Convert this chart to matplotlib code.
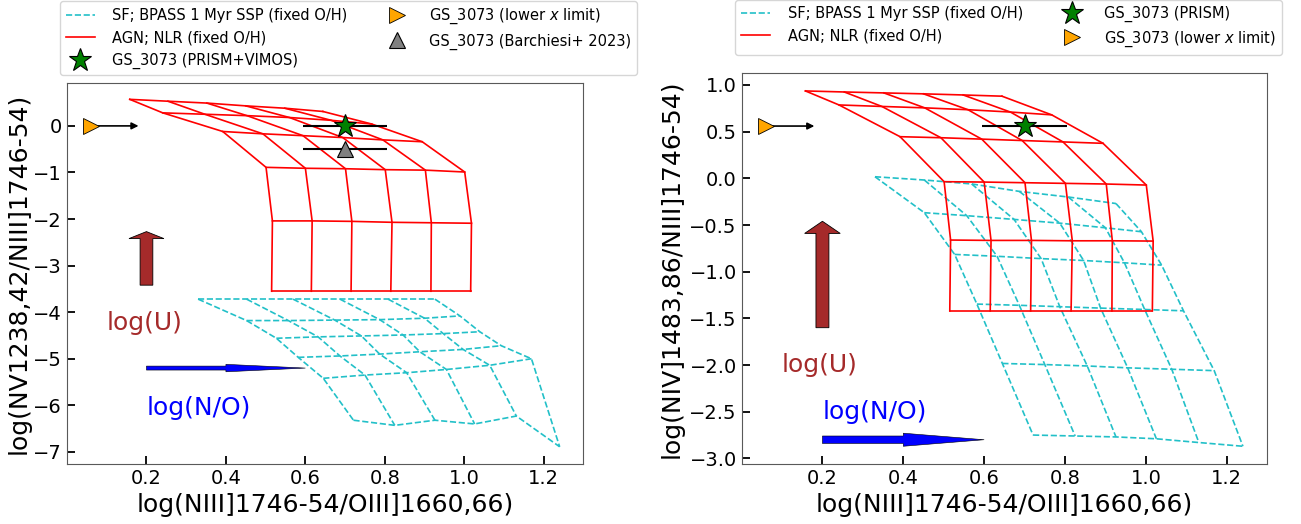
import matplotlib
matplotlib.use('Agg')
import matplotlib.pyplot as plt
import numpy as np

# ---------------- data ----------------
# AGN NLR grid: rows = ionisation parameter, columns = N/O (x is the same ratio in both panels)
agn_x = [
    [0.158, 0.254, 0.352, 0.450, 0.548, 0.644],
    [0.241, 0.347, 0.453, 0.560, 0.665, 0.767],
    [0.392, 0.493, 0.594, 0.694, 0.795, 0.894],
    [0.501, 0.600, 0.701, 0.801, 0.902, 1.001],
    [0.517, 0.617, 0.717, 0.818, 0.917, 1.018],
    [0.515, 0.615, 0.715, 0.815, 0.916, 1.016],
]
agn_y_nv = [
    [0.57, 0.53, 0.49, 0.43, 0.38, 0.31],
    [0.28, 0.25, 0.22, 0.18, 0.12, 0.04],
    [-0.12, -0.17, -0.21, -0.25, -0.30, -0.34],
    [-0.89, -0.91, -0.92, -0.94, -0.95, -0.99],
    [-2.04, -2.04, -2.05, -2.07, -2.08, -2.09],
    [-3.55, -3.55, -3.55, -3.55, -3.55, -3.55],
]
agn_y_niv = [
    [0.936, 0.925, 0.915, 0.905, 0.893, 0.880],
    [0.786, 0.770, 0.755, 0.735, 0.710, 0.680],
    [0.446, 0.435, 0.420, 0.405, 0.390, 0.375],
    [-0.036, -0.040, -0.047, -0.054, -0.061, -0.072],
    [-0.661, -0.665, -0.665, -0.669, -0.669, -0.672],
    [-1.42, -1.42, -1.42, -1.42, -1.42, -1.42],
]

# SF BPASS grid
sf_x = [
    [0.330, 0.452, 0.569, 0.687, 0.808, 0.926],
    [0.452, 0.557, 0.674, 0.787, 0.900, 0.989],
    [0.527, 0.632, 0.741, 0.846, 0.947, 1.039],
    [0.582, 0.687, 0.787, 0.888, 0.997, 1.093],
    [0.645, 0.750, 0.855, 0.955, 1.064, 1.169],
    [0.721, 0.825, 0.926, 1.026, 1.131, 1.240],
]
sf_y_nv = [
    [-3.72, -3.72, -3.72, -3.72, -3.72, -3.72],
    [-4.18, -4.18, -4.17, -4.16, -4.13, -4.08],
    [-4.56, -4.53, -4.51, -4.49, -4.46, -4.42],
    [-4.97, -4.94, -4.90, -4.85, -4.80, -4.72],
    [-5.42, -5.35, -5.30, -5.23, -5.14, -5.00],
    [-6.32, -6.43, -6.32, -6.40, -6.23, -6.89],
]
sf_y_niv = [
    [0.017, -0.018, -0.060, -0.140, -0.200, -0.270],
    [-0.368, -0.400, -0.440, -0.480, -0.530, -0.572],
    [-0.815, -0.835, -0.860, -0.880, -0.905, -0.930],
    [-1.347, -1.360, -1.375, -1.390, -1.405, -1.419],
    [-1.983, -1.995, -2.010, -2.030, -2.045, -2.060],
    [-2.750, -2.760, -2.770, -2.790, -2.830, -2.870],
]

# GS_3073 measurements
gs_x = 0.70
gs_xerr = 0.105
gs_nv = 0.0
barchiesi_nv = -0.5
gs_niv = 0.56
limit_x = 0.06
limit_arrow_end = 0.18

# ---------------- figure ----------------
fig = plt.figure(figsize=(13.01, 5.24), dpi=100)
axL = fig.add_axes([0.0515, 0.1145, 0.397, 0.727])
axR = fig.add_axes([0.570, 0.1145, 0.404, 0.7456])

SF_COLOR = '#22c0c8'
AGN_COLOR = 'red'


def draw_grid(ax, X, Y, color, ls, lw):
    X = np.asarray(X)
    Y = np.asarray(Y)
    h = None
    for i in range(X.shape[0]):
        l, = ax.plot(X[i], Y[i], color=color, ls=ls, lw=lw)
        h = h or l
    for j in range(X.shape[1]):
        ax.plot(X[:, j], Y[:, j], color=color, ls=ls, lw=lw)
    return h


def style_axes(ax, ylabel, labelpad):
    ax.set_xlim(0, 1.3)
    ax.set_xticks([0.2, 0.4, 0.6, 0.8, 1.0, 1.2])
    ax.tick_params(direction='in', length=6, width=1.3, labelsize=14,
                   top=False, right=False)
    for s in ax.spines.values():
        s.set_color('0.35')
    ax.set_xlabel('log(NIII]1746-54/OIII]1660,66)', fontsize=18)
    ax.set_ylabel(ylabel, fontsize=18, labelpad=labelpad)


LEG_KW = dict(ncol=2, loc='upper left', bbox_transform=fig.transFigure,
              fontsize=10.5, borderaxespad=0, handletextpad=1.2, columnspacing=2.4)

# ----- left panel -----
h_sf = draw_grid(axL, sf_x, sf_y_nv, SF_COLOR, '--', 1.2)
h_agn = draw_grid(axL, agn_x, agn_y_nv, AGN_COLOR, '-', 1.2)
axL.errorbar(gs_x, gs_nv, xerr=gs_xerr, fmt='none', ecolor='k', elinewidth=1.5, zorder=5)
axL.errorbar(gs_x, barchiesi_nv, xerr=gs_xerr, fmt='none', ecolor='k', elinewidth=1.5, zorder=5)
h_star, = axL.plot(gs_x, gs_nv, ls='none', marker='*', ms=17, mfc='green', mec='k', mew=0.8, zorder=7)
h_tri, = axL.plot(gs_x, barchiesi_nv, ls='none', marker='^', ms=11, mfc='gray', mec='k', mew=0.8, zorder=7)
axL.annotate('', xy=(limit_arrow_end, gs_nv), xytext=(limit_x, gs_nv),
             arrowprops=dict(arrowstyle='-|>', color='k', lw=1.2, mutation_scale=10,
                             shrinkA=0, shrinkB=0), zorder=5)
h_lim, = axL.plot(limit_x, gs_nv, ls='none', marker='>', ms=12, mfc='orange', mec='k', mew=0.6, zorder=7)
axL.arrow(0.2, -3.42, 0, 1.15, width=0.032, head_width=0.088, head_length=0.15,
          length_includes_head=True, fc='brown', ec='k', lw=0.6, zorder=4)
axL.arrow(0.2, -5.2, 0.4, 0, width=0.085, head_width=0.16, head_length=0.2,
          length_includes_head=True, fc='blue', ec='k', lw=0.4, zorder=4)
axL.text(0.1, -4.24, 'log(U)', color='brown', fontsize=18, ha='left', va='center')
axL.text(0.2, -6.05, 'log(N/O)', color='blue', fontsize=18, ha='left', va='center')
axL.set_ylim(-7.26, 0.92)
axL.set_yticks(range(-7, 1))
style_axes(axL, 'log(NV1238,42/NIII]1746-54)', 2)
axL.legend([h_sf, h_agn, h_star, h_lim, h_tri],
           ['SF; BPASS 1 Myr SSP (fixed O/H)', 'AGN; NLR (fixed O/H)',
            'GS_3073 (PRISM+VIMOS)', 'GS_3073 (lower $x$ limit)',
            'GS_3073 (Barchiesi+ 2023)'],
           bbox_to_anchor=(60 / 1301, 1.0 - 1 / 524), **LEG_KW)

# ----- right panel -----
h_sf2 = draw_grid(axR, sf_x, sf_y_niv, SF_COLOR, '--', 1.2)
h_agn2 = draw_grid(axR, agn_x, agn_y_niv, AGN_COLOR, '-', 1.2)
axR.errorbar(gs_x, gs_niv, xerr=gs_xerr, fmt='none', ecolor='k', elinewidth=1.5, zorder=5)
h_star2, = axR.plot(gs_x, gs_niv, ls='none', marker='*', ms=17, mfc='green', mec='k', mew=0.8, zorder=7)
axR.annotate('', xy=(limit_arrow_end, gs_niv), xytext=(limit_x, gs_niv),
             arrowprops=dict(arrowstyle='-|>', color='k', lw=1.2, mutation_scale=10,
                             shrinkA=0, shrinkB=0), zorder=5)
h_lim2, = axR.plot(limit_x, gs_niv, ls='none', marker='>', ms=12, mfc='orange', mec='k', mew=0.6, zorder=7)
axR.arrow(0.2, -1.6, 0, 1.14, width=0.032, head_width=0.088, head_length=0.13,
          length_includes_head=True, fc='brown', ec='k', lw=0.6, zorder=4)
axR.arrow(0.2, -2.8, 0.4, 0, width=0.08, head_width=0.14, head_length=0.2,
          length_includes_head=True, fc='blue', ec='k', lw=0.4, zorder=4)
axR.text(0.1, -2.0, 'log(U)', color='brown', fontsize=18, ha='left', va='center')
axR.text(0.2, -2.5, 'log(N/O)', color='blue', fontsize=18, ha='left', va='center')
axR.set_ylim(-3.06, 1.125)
axR.set_yticks(np.arange(-3.0, 1.01, 0.5))
style_axes(axR, 'log(NIV]1483,86/NIII]1746-54)', 4)
axR.legend([h_sf2, h_agn2, h_star2, h_lim2],
           ['SF; BPASS 1 Myr SSP (fixed O/H)', 'AGN; NLR (fixed O/H)',
            'GS_3073 (PRISM)', 'GS_3073 (lower $x$ limit)'],
           bbox_to_anchor=(735 / 1301, 1.0), **LEG_KW)

fig.savefig('out.png', dpi=100)
